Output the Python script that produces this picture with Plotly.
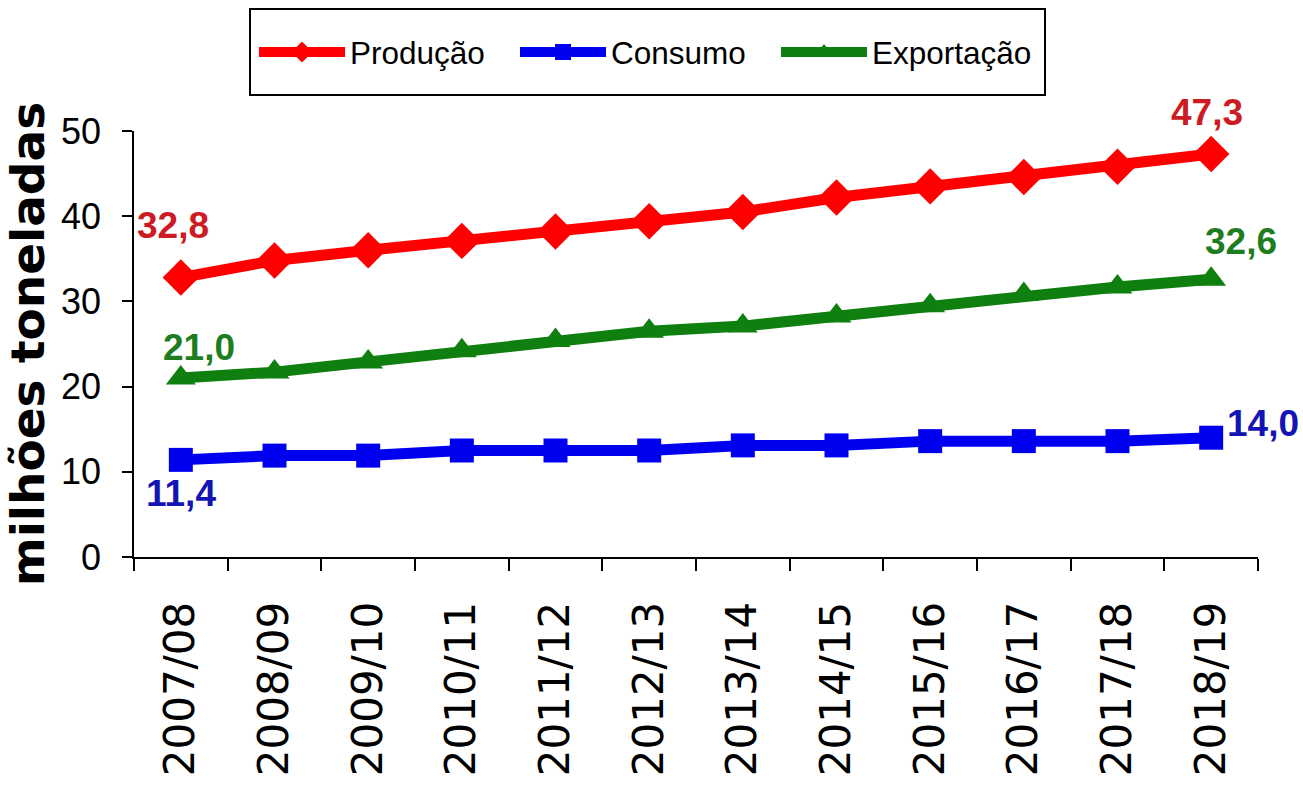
import plotly.graph_objects as go

categories = ["2007/08", "2008/09", "2009/10", "2010/11", "2011/12", "2012/13",
              "2013/14", "2014/15", "2015/16", "2016/17", "2017/18", "2018/19"]
producao = [32.8, 34.8, 36.0, 37.1, 38.2, 39.4, 40.5, 42.2, 43.5, 44.6, 45.8, 47.3]
consumo = [11.4, 11.9, 11.9, 12.5, 12.5, 12.5, 13.1, 13.1, 13.6, 13.6, 13.6, 14.0]
exportacao = [21.0, 21.7, 22.9, 24.2, 25.4, 26.5, 27.1, 28.3, 29.5, 30.8, 31.7, 32.6]
y_ticks = [0, 10, 20, 30, 40, 50]

SANS = "Liberation Sans, Arial, sans-serif"

series = [
    ("Produção", producao, "#FF0000", "#CC1B22", "diamond", 28),
    ("Consumo", consumo, "#0000F0", "#1414B4", "square", 24),
    ("Exportação", exportacao, "#0F800F", "#1E7D1E", "triangle-up", 26),
]

fig = go.Figure()
for name, vals, col, lcol, sym, size in series:
    fig.add_trace(go.Scatter(
        x=categories, y=vals, name=name, mode="lines+markers",
        line=dict(color=col, width=11),
        marker=dict(color=col, symbol=sym, size=size),
        cliponaxis=False,
    ))


def fmt(v):
    return f"{v:.1f}".replace(".", ",")


labels = [
    (producao, 0, "#CC1B22", -8, 52),
    (producao, -1, "#CC1B22", -4, 42),
    (exportacao, 0, "#1E7D1E", 18, 31),
    (exportacao, -1, "#1E7D1E", 30, 38),
    (consumo, 0, "#1414B4", 0, -34),
    (consumo, -1, "#1414B4", 52, 14),
]
for vals, i, col, xs, ys in labels:
    fig.add_annotation(
        x=categories[i], y=vals[i], text=fmt(vals[i]), showarrow=False,
        xshift=xs, yshift=ys,
        font=dict(family=SANS, size=37, color=col, weight="bold"),
    )

# plot area in pixels: x 134..1258, y 131..557
PW, PH = 1124.0, 426.0
fig.add_shape(
    type="rect", xref="paper", yref="paper",
    x0=(250 - 134) / PW, x1=(1045 - 134) / PW,
    y0=1 + (131 - 95) / PH, y1=1 + (131 - 9) / PH,
    line=dict(color="black", width=2), fillcolor="rgba(0,0,0,0)", layer="above",
)

fig.update_layout(
    width=1303, height=799,
    margin=dict(l=134, r=45, t=131, b=242),
    paper_bgcolor="white", plot_bgcolor="white",
    showlegend=True,
    legend=dict(
        orientation="h", x=(254 - 134) / PW, y=1 + (131 - 52) / PH,
        xanchor="left", yanchor="middle",
        borderwidth=0, bgcolor="rgba(0,0,0,0)",
        font=dict(family=SANS, size=31.5, color="black"),
        itemwidth=86, entrywidth=160, tracegroupgap=0,
    ),
    xaxis=dict(
        type="category", range=[-0.5, 11.5], automargin=False,
        showline=True, linecolor="black", linewidth=2,
        ticks="outside", tickson="boundaries", ticklen=12, tickwidth=1.5, tickcolor="black",
        tickangle=-90, ticklabelstandoff=26,
        tickfont=dict(family="DejaVu Sans, sans-serif", size=42, color="black"),
        showgrid=False, zeroline=False,
    ),
    yaxis=dict(
        range=[0, 50], tickvals=y_ticks, automargin=False,
        showline=True, linecolor="black", linewidth=1.5,
        ticks="outside", ticklen=10, tickwidth=1.5, tickcolor="black",
        ticklabelstandoff=14,
        tickfont=dict(family=SANS, size=36, color="black"),
        showgrid=False, zeroline=False,
        title=dict(text="milhões toneladas", standoff=28,
                   font=dict(family="DejaVu Sans, sans-serif", size=47, color="black", weight="bold")),
    ),
)

fig.write_html("out.html")
